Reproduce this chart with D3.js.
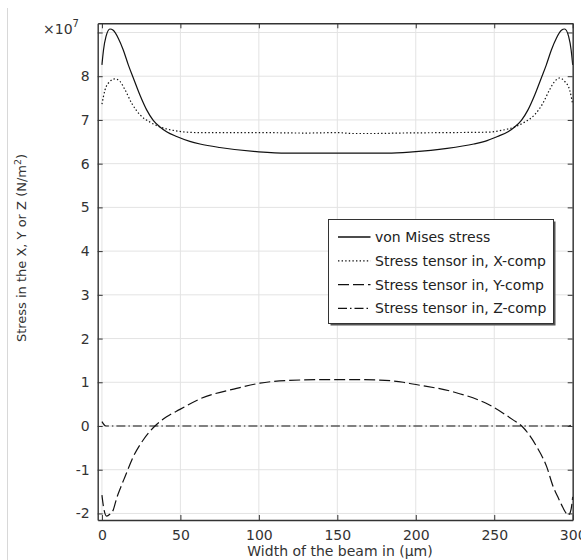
<!DOCTYPE html>
<html>
<head>
<meta charset="utf-8">
<script src="https://cdn.jsdelivr.net/npm/d3@7"></script>
<style>
  html, body { margin: 0; padding: 0; background: #fff; }
  svg { display: block; }
</style>
</head>
<body>
<div id="chart"></div>
<script>
// x in µm, stress in units of 1e7 N/m^2
const vonMises = [
  [0, 8.26], [1, 8.60], [2.6, 8.91], [5.1, 9.08], [7.2, 9.05], [10.4, 8.87], [13.6, 8.60],
  [16.8, 8.26], [20, 7.96], [24.2, 7.57], [28.5, 7.23], [32.7, 6.99], [37, 6.84], [41.2, 6.73],
  [47.6, 6.62], [56, 6.51], [62.5, 6.45], [75, 6.37], [100, 6.27], [118, 6.24], [150, 6.24],
  [182, 6.24], [198, 6.27], [220, 6.35], [237, 6.45], [244, 6.51], [252, 6.62], [258.8, 6.73],
  [263, 6.84], [267.3, 6.99], [271.5, 7.23], [275.8, 7.57], [280, 7.96], [283.2, 8.26],
  [286.4, 8.60], [289.6, 8.87], [292.8, 9.05], [294.9, 9.08], [297.4, 8.91], [299, 8.60], [300, 8.26]
];
const xComp = [
  [0, 7.36], [2, 7.69], [5.1, 7.88], [8.3, 7.94], [11.5, 7.88], [14.7, 7.69], [19, 7.38],
  [24.2, 7.12], [30.6, 6.95], [37, 6.84], [45.5, 6.76], [54, 6.72], [62.5, 6.71], [100, 6.71],
  [130, 6.70], [150, 6.71], [160, 6.69], [175, 6.69], [190, 6.70], [220, 6.71], [246, 6.72],
  [254.5, 6.76], [263, 6.84], [269.4, 6.95], [275.8, 7.12], [281, 7.38], [285.3, 7.69],
  [288.5, 7.88], [291.8, 7.96], [294.9, 7.88], [298, 7.69], [300, 7.36]
];
const yComp = [
  [0, -1.58], [1, -1.85], [3, -2.06], [5, -2.02], [7.2, -1.92], [9.4, -1.65], [12, -1.40],
  [14.7, -1.16], [20, -0.70], [26.3, -0.32], [33.8, 0], [41.2, 0.21], [49.7, 0.38], [62.5, 0.62],
  [85.8, 0.86], [100.7, 0.98], [117.7, 1.04], [141, 1.06], [160, 1.06], [177, 1.05], [192, 1.00],
  [198, 0.96], [224, 0.78], [247, 0.48], [262, 0.14], [267.5, 0], [277, -0.47], [283.4, -0.93],
  [287.6, -1.39], [290.5, -1.62], [293, -1.81], [295, -1.95], [297.3, -2.04], [299, -1.90], [300, -1.62]
];
const zComp = [[0, 0.1], [2.5, 0], [297.5, 0], [300, 0.05]];

const xTicks = [0, 50, 100, 150, 200, 250, 300];
const yTicks = [-2, -1, 0, 1, 2, 3, 4, 5, 6, 7, 8, 9];
const yTickLabels = ['-2', '-1', '0', '1', '2', '3', '4', '5', '6', '7', '8', ''];

const series = [
  { name: 'von Mises stress', data: vonMises, dash: null },
  { name: 'Stress tensor in, X-comp', data: xComp, dash: '1.4,2.2' },
  { name: 'Stress tensor in, Y-comp', data: yComp, dash: '11,4' },
  { name: 'Stress tensor in, Z-comp', data: zComp, dash: '9,3,1.5,3' }
];

const W = 581, H = 560;
const box = { left: 97.7, right: 572.7, top: 23.3, bottom: 520 };
const font = '"DejaVu Sans", sans-serif';

const svg = d3.select('#chart').append('svg')
  .attr('width', W).attr('height', H);

const x = d3.scaleLinear().domain([-2.7, 300]).range([box.left, box.right]);
const y = d3.scaleLinear().domain([-2.15, 9.21]).range([box.bottom, box.top]);

// panel edge on the far left
svg.append('line')
  .attr('x1', 7.5).attr('x2', 7.5).attr('y1', 8).attr('y2', H)
  .attr('stroke', '#d8d8d8').attr('stroke-width', 1);

// grid
const grid = svg.append('g').attr('stroke', '#e3e3e3').attr('stroke-width', 1);
grid.selectAll('line.gx').data(xTicks).join('line').attr('class', 'gx')
  .attr('x1', d => x(d)).attr('x2', d => x(d))
  .attr('y1', box.top).attr('y2', box.bottom);
grid.selectAll('line.gy').data(yTicks).join('line').attr('class', 'gy')
  .attr('x1', box.left).attr('x2', box.right)
  .attr('y1', d => y(d)).attr('y2', d => y(d));

// curves
const line = d3.line()
  .x(d => x(d[0])).y(d => y(d[1]))
  .curve(d3.curveMonotoneX);

svg.append('g').selectAll('path').data(series).join('path')
  .attr('d', d => line(d.data))
  .attr('fill', 'none')
  .attr('stroke', '#111')
  .attr('stroke-width', 1.2)
  .attr('stroke-dasharray', d => d.dash);

// axes with inward ticks
const fmtY = d => yTickLabels[yTicks.indexOf(d)];
const axisStyle = g => {
  g.select('.domain').attr('stroke', '#333').attr('stroke-width', 1.4);
  g.selectAll('.tick line').attr('stroke', '#333');
  g.selectAll('text').attr('font-family', font).attr('font-size', '14px').attr('fill', '#333');
};

svg.append('g')
  .attr('transform', `translate(0,${box.bottom})`)
  .call(d3.axisBottom(x).tickValues(xTicks).tickSizeInner(-5).tickSizeOuter(0).tickPadding(10))
  .call(axisStyle);

svg.append('g')
  .attr('transform', `translate(0,${box.top})`)
  .call(d3.axisTop(x).tickValues(xTicks).tickSizeInner(-5).tickSizeOuter(0).tickFormat(''))
  .call(axisStyle);

svg.append('g')
  .attr('transform', `translate(${box.left},0)`)
  .call(d3.axisLeft(y).tickValues(yTicks).tickSizeInner(-5).tickSizeOuter(0).tickPadding(8).tickFormat(fmtY))
  .call(axisStyle);

svg.append('g')
  .attr('transform', `translate(${box.right},0)`)
  .call(d3.axisRight(y).tickValues(yTicks).tickSizeInner(-5).tickSizeOuter(0).tickFormat(''))
  .call(axisStyle);

// exponent label
const expo = svg.append('text')
  .attr('x', 43).attr('y', 33.5)
  .attr('font-family', font).attr('font-size', '14px').attr('fill', '#333');
expo.append('tspan').text('×10');
expo.append('tspan').attr('dy', -7).attr('font-size', '10px').text('7');

// axis titles
svg.append('text')
  .attr('x', 340).attr('y', 556)
  .attr('text-anchor', 'middle')
  .attr('font-family', font).attr('font-size', '14px').attr('fill', '#333')
  .text('Width of the beam in (µm)');

const yl = svg.append('text')
  .attr('transform', 'translate(26,248) rotate(-90)')
  .attr('text-anchor', 'middle')
  .attr('font-family', font).attr('font-size', '13px').attr('fill', '#333');
yl.append('tspan').text('Stress in the X, Y or Z (N/m');
yl.append('tspan').attr('dy', -5).attr('font-size', '9.5px').text('2');
yl.append('tspan').attr('dy', 5).text(')');

// legend
const lg = svg.append('g').attr('transform', 'translate(328.5,219.5)');
const lgW = 225, lgH = 104;
lg.append('rect').attr('x', 2).attr('y', 2).attr('width', lgW).attr('height', lgH)
  .attr('fill', '#555');
lg.append('rect').attr('width', lgW).attr('height', lgH)
  .attr('fill', '#fff').attr('stroke', '#333').attr('stroke-width', 1);

const rows = lg.selectAll('g.row').data(series).join('g').attr('class', 'row')
  .attr('transform', (d, i) => `translate(0,${17.5 + i * 23.8})`);
rows.append('line')
  .attr('x1', 9.5).attr('x2', 42).attr('y1', 0).attr('y2', 0)
  .attr('stroke', '#111').attr('stroke-width', 1.3)
  .attr('stroke-dasharray', d => d.dash);
rows.append('text')
  .attr('x', 46.5).attr('y', 0).attr('dy', '0.35em')
  .attr('font-family', font).attr('font-size', '14px').attr('fill', '#222')
  .text(d => d.name);
</script>
</body>
</html>
